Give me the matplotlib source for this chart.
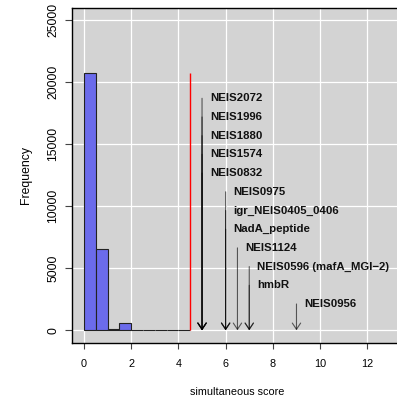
import matplotlib
matplotlib.use("Agg")
import matplotlib.pyplot as plt
import numpy as np

plt.rcParams['font.family'] = ['Liberation Sans', 'DejaVu Sans']

# Histogram of simultaneous scores (bin width 0.5)
bin_edges = [0.0, 0.5, 1.0, 1.5, 2.0, 2.5, 3.0, 3.5, 4.0, 4.5]
bin_counts = [20780, 6530, 120, 560, 5, 50, 5, 0, 0]
threshold = 4.5

# Genes with their simultaneous scores
genes = ["NEIS2072", "NEIS1996", "NEIS1880", "NEIS1574", "NEIS0832",
         "NEIS0975", "igr_NEIS0405_0406", "NadA_peptide", "NEIS1124",
         "NEIS0596 (mafA_MGI\u22122)", "hmbR", "NEIS0956"]
gene_scores = [5, 5, 5, 5, 5, 6, 6, 6, 6.5, 7, 7, 9]

x_ticks = [0, 2, 4, 6, 8, 10, 12]
y_ticks = [0, 5000, 10000, 15000, 20000, 25000]

W, H = 397, 404
fig = plt.figure(figsize=(W / 100, H / 100), dpi=100)
ax = fig.add_axes([71.7 / W, (H - 342.7) / H, (403.2 - 71.7) / W, (342.7 - 7.9) / H])
ax.set_facecolor('#D3D3D3')
ax.set_xlim(-0.52, 13.52)
ax.set_ylim(-1000, 26000)

ax.set_xticks(x_ticks)
ax.set_yticks(y_ticks)
ax.grid(True, color='white', linewidth=0.9)
ax.set_axisbelow(True)

widths = np.diff(bin_edges)
ax.bar(bin_edges[:-1], bin_counts, width=widths, align='edge',
       color='#6B6BEB', edgecolor='#222222', linewidth=0.8, zorder=3)

ax.vlines(threshold, 0, max(bin_counts), color='red', linewidth=1.0, zorder=4)

label_top = 18710
label_step = 1508
for i, (g, s) in enumerate(zip(genes, gene_scores)):
    y = label_top - i * label_step
    ax.annotate('', xy=(s, 0), xytext=(s, y),
                arrowprops=dict(arrowstyle='->,head_length=0.45,head_width=0.3',
                                lw=0.8, color='black', alpha=0.6,
                                shrinkA=0, shrinkB=0, mutation_scale=10),
                zorder=5)
    ax.text(s + 0.33, y, g, ha='left', va='center', fontsize=8.2,
            fontweight='bold', color='#111111', zorder=6)

for sp in ax.spines.values():
    sp.set_color('black')
    sp.set_linewidth(1.0)

ax.tick_params(axis='x', length=4.5, width=0.8, color='#444444', pad=7.5, labelsize=7.8)
ax.tick_params(axis='y', length=5, width=0.8, color='#444444', pad=4, labelsize=8.8)
for lab in ax.get_yticklabels():
    lab.set_rotation(90)
    lab.set_va('center')

ax.set_xlabel('simultaneous score', fontsize=7.8, labelpad=13)
ax.set_ylabel('Frequency', fontsize=8.8, labelpad=11)

fig.savefig('out.png', dpi=100)
